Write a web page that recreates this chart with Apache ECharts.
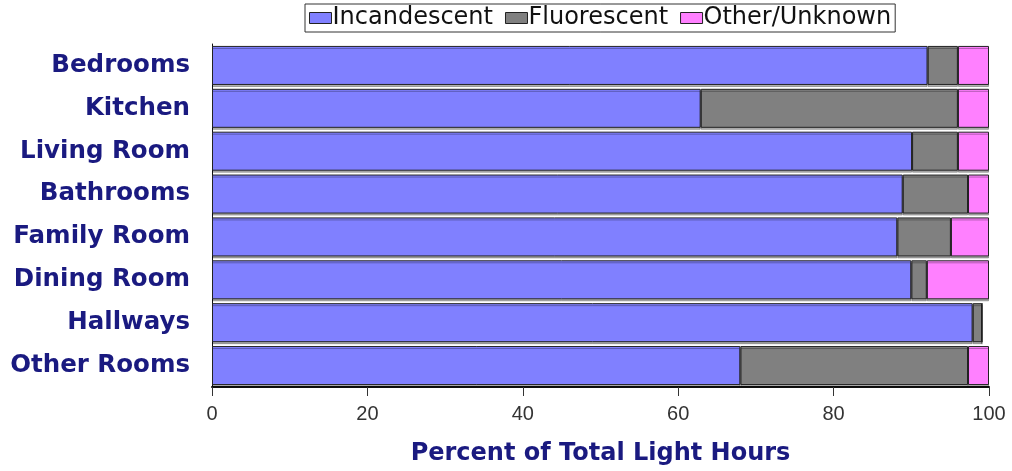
<!DOCTYPE html>
<html>
<head>
<meta charset="utf-8">
<script src="https://cdn.jsdelivr.net/npm/echarts@6/dist/echarts.min.js"></script>
<style>
  html, body { margin: 0; padding: 0; background: #fff; }
  #chart { width: 1012px; height: 471px; }
</style>
</head>
<body>
<div id="chart"></div>
<script>
// rooms, top to bottom
var rooms = ['Bedrooms', 'Kitchen', 'Living Room', 'Bathrooms', 'Family Room', 'Dining Room', 'Hallways', 'Other Rooms']
// percent of total light hours
var incandescent = [92.1, 62.9, 90.1, 88.9, 88.2, 90.0, 97.9, 68.0]
var fluorescent = [3.9, 33.1, 5.9, 8.4, 6.9, 2.0, 1.2, 29.3]
var other = [4.0, 4.0, 4.0, 2.7, 4.9, 8.0, 0, 2.7]
var xTicks = [0, 20, 40, 60, 80, 100]

var mCharts = echarts.init(document.getElementById('chart'))

function barSeries(name, data, color) {
  return {
    name: name,
    type: 'bar',
    stack: 'all',
    data: data,
    barCategoryGap: '9%',
    itemStyle: {
      color: color,
      borderColor: '#222',
      borderWidth: 1,
      shadowColor: 'rgba(0,0,0,0.3)',
      shadowOffsetY: 2
    },
    emphasis: { disabled: true }
  }
}

var option = {
  animation: false,
  legend: {
    top: 4,
    left: 305,
    padding: [2, 4, 2, 4],
    borderColor: '#333',
    borderWidth: 1,
    itemWidth: 22,
    itemHeight: 11,
    itemGap: 12,
    icon: 'rect',
    itemStyle: { borderColor: '#222', borderWidth: 1 },
    textStyle: { fontFamily: 'DejaVu Sans', fontSize: 24, color: '#111', padding: [0, 0, 0, -4] },
    data: ['Incandescent', 'Fluorescent', 'Other/Unknown']
  },
  grid: { left: 212, right: 23, top: 44, bottom: 84, outerBoundsMode: 'none' },
  xAxis: {
    type: 'value',
    min: 0,
    max: 100,
    interval: 20,
    name: 'Percent of Total Light Hours',
    nameLocation: 'middle',
    nameGap: 55,
    nameTextStyle: { fontFamily: 'DejaVu Sans', fontWeight: 'bold', fontSize: 24, color: '#1a1a80' },
    axisLine: { show: true, lineStyle: { color: '#111', width: 2 } },
    axisTick: { show: true, length: 9, lineStyle: { color: '#333' } },
    axisLabel: {
      fontFamily: 'Liberation Sans', fontSize: 20, color: '#333', margin: 17,
      formatter: function (v) { return xTicks.indexOf(v) >= 0 ? String(v) : '' }
    },
    splitLine: { show: false }
  },
  yAxis: {
    type: 'category',
    data: rooms,
    inverse: true,
    axisLine: { show: true, lineStyle: { color: '#111', width: 1 } },
    axisTick: { show: false },
    axisLabel: { fontFamily: 'DejaVu Sans', fontWeight: 'bold', fontSize: 24.5, color: '#1a1a80', margin: 22 }
  },
  series: [
    barSeries('Incandescent', incandescent, '#8080ff'),
    barSeries('Fluorescent', fluorescent, '#808080'),
    barSeries('Other/Unknown', other, '#ff80ff')
  ]
}
mCharts.setOption(option)
</script>
</body>
</html>
